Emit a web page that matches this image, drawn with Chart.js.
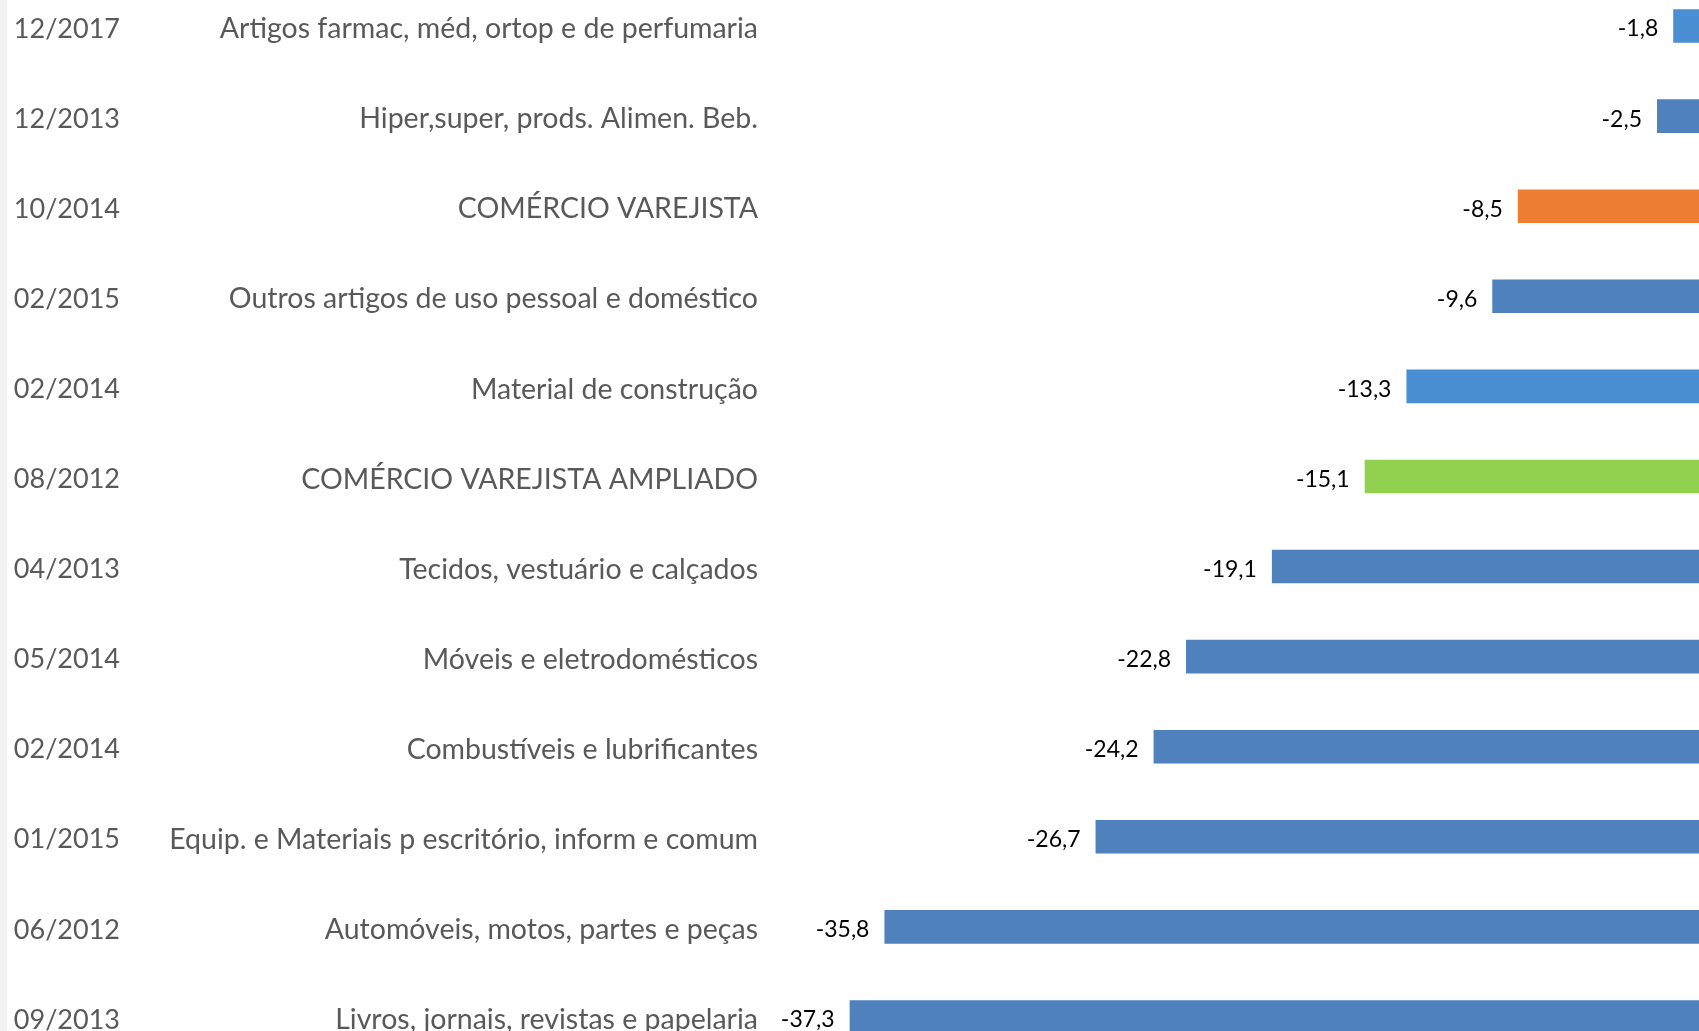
<!DOCTYPE html>
<html><head><meta charset="utf-8">
<script src="https://cdn.jsdelivr.net/npm/chart.js@4.4.1/dist/chart.umd.min.js"></script>
<style>
html,body{margin:0;padding:0;width:1699px;height:1031px;overflow:hidden;background:#fff;}
#strip{position:absolute;left:0;top:0;width:7px;height:1031px;background:#f3f3f3;}
#wrap{position:absolute;left:0;top:-19px;width:1715px;height:1081px;}
</style></head><body>
<div id="wrap"><canvas id="c"></canvas></div>
<div id="strip"></div>
<script>
const periods = ['12/2017','12/2013','10/2014','02/2015','02/2014','08/2012','04/2013','05/2014','02/2014','01/2015','06/2012','09/2013'];
const categories = [
  'Artigos farmac, méd, ortop e de perfumaria',
  'Hiper,super, prods. Alimen. Beb.',
  'COMÉRCIO VAREJISTA',
  'Outros artigos de uso pessoal e doméstico',
  'Material de construção',
  'COMÉRCIO VAREJISTA AMPLIADO',
  'Tecidos, vestuário e calçados',
  'Móveis e eletrodomésticos',
  'Combustíveis e lubrificantes',
  'Equip. e Materiais p escritório, inform e comum',
  'Automóveis, motos, partes e peças',
  'Livros, jornais, revistas e papelaria'
];
const values = [-1.8,-2.5,-8.5,-9.6,-13.3,-15.1,-19.1,-22.8,-24.2,-26.7,-35.8,-37.3];
const barColors = ['#4A8FD3','#4F81BD','#ED7D31','#4F81BD','#4A8FD3','#92D050','#4F81BD','#4F81BD','#4F81BD','#4F81BD','#4F81BD','#4F81BD'];

const valueLabels = {
  id:'valueLabels',
  afterDatasetsDraw(chart){
    const ctx = chart.ctx;
    const meta = chart.getDatasetMeta(0);
    ctx.save();
    ctx.font = '23px Lato';
    ctx.fillStyle = '#000';
    ctx.textAlign = 'right';
    ctx.textBaseline = 'middle';
    meta.data.forEach((bar,i)=>{
      const txt = values[i].toFixed(1).replace('.',',');
      ctx.fillText(txt, bar.x - 15, bar.y + 3);
    });
    ctx.restore();
  }
};

function fixAxis(width){
  return function(s){ s.width = width; s.paddingTop = 0; s.paddingBottom = 0; };
}

new Chart(document.getElementById('c'), {
  type:'bar',
  data:{labels:categories, datasets:[{data:values, backgroundColor:barColors, barPercentage:0.372, categoryPercentage:1, borderWidth:0}]},
  options:{
    indexAxis:'y', responsive:true, maintainAspectRatio:false, animation:false,
    layout:{padding:0},
    plugins:{legend:{display:false}, tooltip:{enabled:false}},
    scales:{
      x:{display:false, min:-40, max:0},
      y:{position:'left', weight:0, grid:{display:false, drawTicks:false}, border:{display:false},
         ticks:{color:'#595959', font:{family:'Lato', size:28.5}, padding:29, crossAlign:'near', labelOffset:3},
         afterFit: fixAxis(787-135)},
      y2:{type:'category', labels:periods, position:'left', weight:10, grid:{display:false, drawTicks:false}, border:{display:false},
         ticks:{color:'#595959', font:{family:'Lato', size:27}, padding:15, crossAlign:'near', labelOffset:3},
         afterFit: fixAxis(135)}
    }
  },
  plugins:[valueLabels]
});
</script>
</body></html>
